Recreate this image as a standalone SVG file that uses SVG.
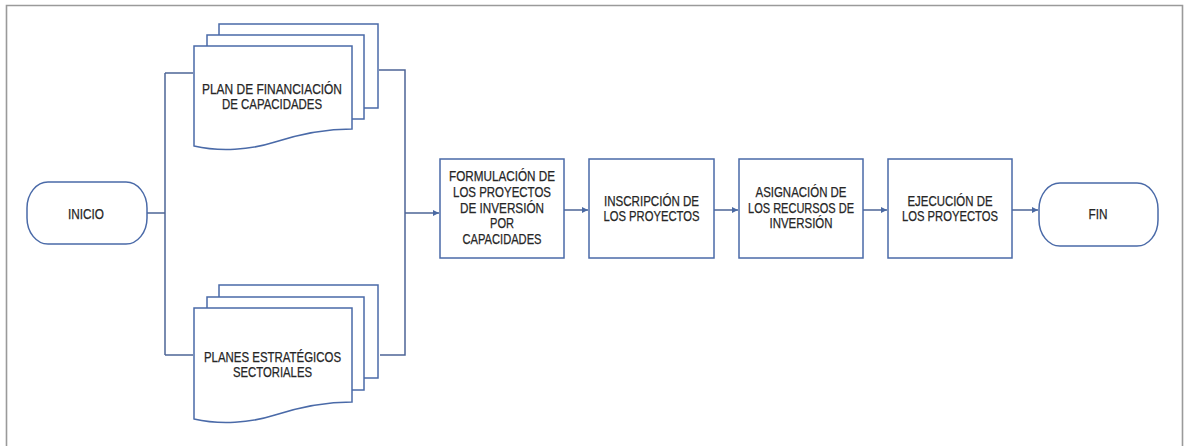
<svg xmlns="http://www.w3.org/2000/svg" width="1184" height="446" viewBox="0 0 1184 446">
<defs>
<marker id="arr" viewBox="0 0 10 10" refX="10" refY="5" markerWidth="7" markerHeight="6" markerUnits="userSpaceOnUse" orient="auto">
<path d="M0,0 L10,5 L0,10 Z" fill="#4a69a3"/>
</marker>
<style>
.shape{fill:#fff;stroke:#4a6aa8;stroke-width:1.5}
.conn{fill:none;stroke:#4d6496;stroke-width:1.5}
.lbl{font-family:"Liberation Sans",Arial,sans-serif;font-size:14px;fill:#262626;stroke:#262626;stroke-width:0.25;text-anchor:middle}
</style>
</defs>
<rect x="0" y="0" width="1184" height="446" fill="#fff"/>
<path d="M6.5,446 V5.5 H1182.5 V446" fill="none" stroke="#9a9a9a" stroke-width="1.6"/>

<g id="connectors">
<path class="conn" d="M147,213 H165"/>
<path class="conn" d="M165,73 V355"/>
<path class="conn" d="M165,73 H193"/>
<path class="conn" d="M165,355 H193"/>
<path class="conn" d="M379,70 H405 V355 H380"/>
<path class="conn" d="M405,213 H439" marker-end="url(#arr)"/>
<path class="conn" d="M564,210 H588" marker-end="url(#arr)"/>
<path class="conn" d="M714,210 H738" marker-end="url(#arr)"/>
<path class="conn" d="M863,210 H887" marker-end="url(#arr)"/>
<path class="conn" d="M1012,210 H1038" marker-end="url(#arr)"/>
</g>

<g id="inicio">
<rect class="shape" x="27" y="182" width="120" height="62" rx="21" ry="26"/>
<text class="lbl" x="86" y="219" textLength="36" lengthAdjust="spacingAndGlyphs">INICIO</text>
</g>

<g id="plan-financiacion">
<rect class="shape" x="219" y="24" width="159" height="84"/>
<rect class="shape" x="207" y="35" width="157" height="84"/>
<path class="shape" d="M194,46 H352 V129 C325,129 300,134 275,142 C250,150 220,152 194,146 Z"/>
<text class="lbl" x="272" y="94" textLength="140" lengthAdjust="spacingAndGlyphs">PLAN DE FINANCIACIÓN</text>
<text class="lbl" x="272" y="109" textLength="100" lengthAdjust="spacingAndGlyphs">DE CAPACIDADES</text>
</g>

<g id="planes-estrategicos">
<rect class="shape" x="219" y="285" width="159" height="93"/>
<rect class="shape" x="207" y="297" width="157" height="93"/>
<path class="shape" d="M194,308 H352 V402 C325,402 300,407 275,415 C250,423 220,425 194,419 Z"/>
<text class="lbl" x="272.5" y="362" textLength="137" lengthAdjust="spacingAndGlyphs">PLANES ESTRATÉGICOS</text>
<text class="lbl" x="272.5" y="377" textLength="79" lengthAdjust="spacingAndGlyphs">SECTORIALES</text>
</g>

<g id="formulacion">
<rect class="shape" x="440" y="159" width="124" height="99"/>
<text class="lbl" x="502" y="181" textLength="106" lengthAdjust="spacingAndGlyphs">FORMULACIÓN DE</text>
<text class="lbl" x="502" y="197" textLength="98" lengthAdjust="spacingAndGlyphs">LOS PROYECTOS</text>
<text class="lbl" x="502" y="213" textLength="84" lengthAdjust="spacingAndGlyphs">DE INVERSIÓN</text>
<text class="lbl" x="502" y="228" textLength="24" lengthAdjust="spacingAndGlyphs">POR</text>
<text class="lbl" x="502" y="244" textLength="79" lengthAdjust="spacingAndGlyphs">CAPACIDADES</text>
</g>

<g id="inscripcion">
<rect class="shape" x="589" y="159" width="125" height="99"/>
<text class="lbl" x="651.5" y="206" textLength="95" lengthAdjust="spacingAndGlyphs">INSCRIPCIÓN DE</text>
<text class="lbl" x="651.5" y="221" textLength="96" lengthAdjust="spacingAndGlyphs">LOS PROYECTOS</text>
</g>

<g id="asignacion">
<rect class="shape" x="739" y="159" width="124" height="99"/>
<text class="lbl" x="801" y="197" textLength="91" lengthAdjust="spacingAndGlyphs">ASIGNACIÓN DE</text>
<text class="lbl" x="801" y="213" textLength="106" lengthAdjust="spacingAndGlyphs">LOS RECURSOS DE</text>
<text class="lbl" x="801" y="228" textLength="63" lengthAdjust="spacingAndGlyphs">INVERSIÓN</text>
</g>

<g id="ejecucion">
<rect class="shape" x="888" y="159" width="124" height="99"/>
<text class="lbl" x="950" y="206" textLength="85" lengthAdjust="spacingAndGlyphs">EJECUCIÓN DE</text>
<text class="lbl" x="950" y="221" textLength="96" lengthAdjust="spacingAndGlyphs">LOS PROYECTOS</text>
</g>

<g id="fin">
<rect class="shape" x="1039" y="183" width="119" height="63" rx="21" ry="26"/>
<text class="lbl" x="1098" y="219" textLength="19" lengthAdjust="spacingAndGlyphs">FIN</text>
</g>
</svg>
